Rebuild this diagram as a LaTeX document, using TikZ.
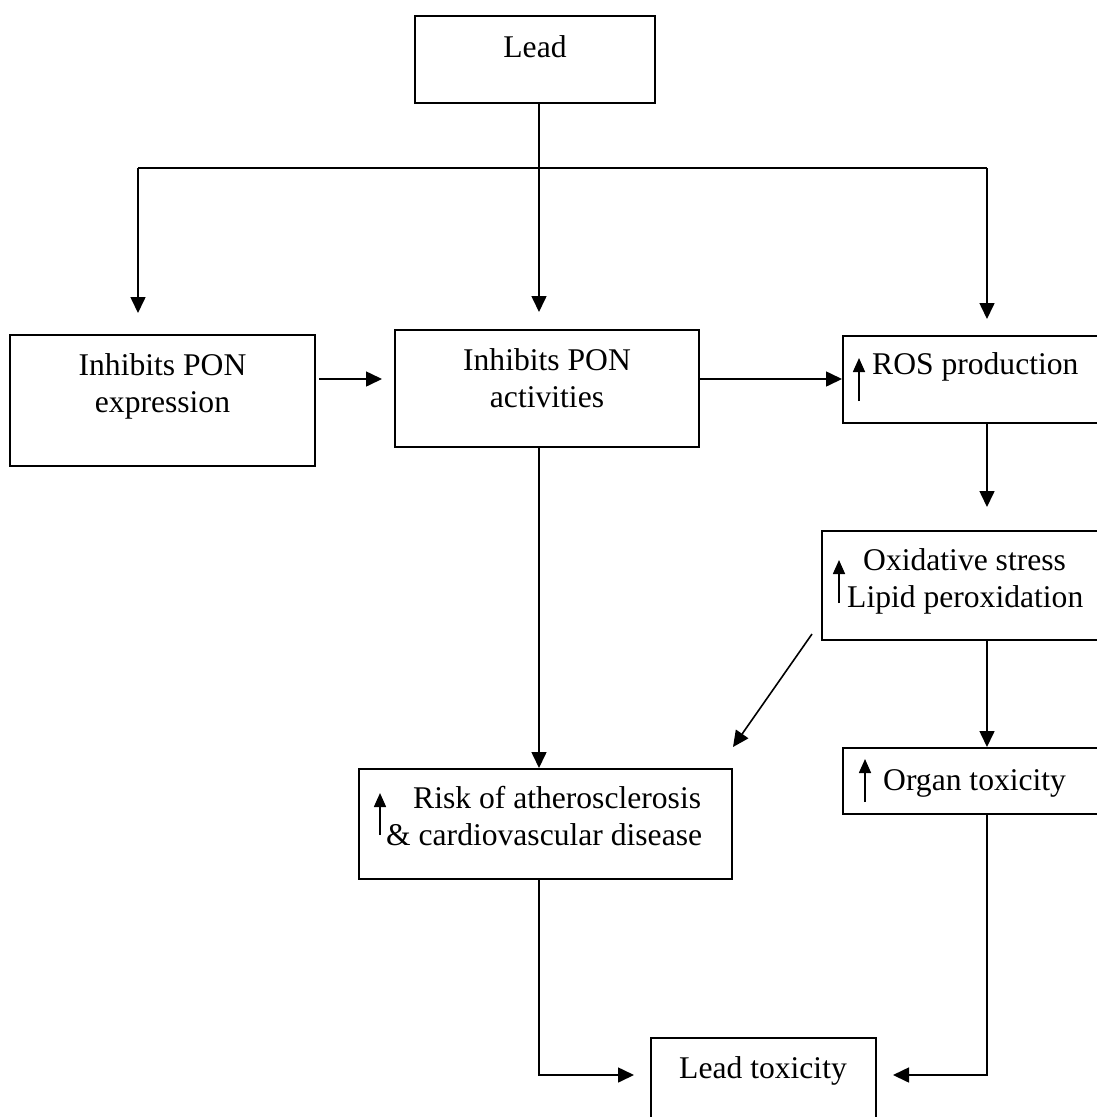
\documentclass[tikz,border=0pt]{standalone}
\usepackage{fontspec}
\setmainfont{Liberation Serif}
\usetikzlibrary{arrows.meta}
\begin{document}
\begin{tikzpicture}[x=1pt,y=1pt,
  box/.style={draw, line width=2pt, rectangle, inner sep=0pt},
  txt/.style={inner sep=0pt, font=\fontsize{31.6}{37}\selectfont},
  conn/.style={line width=1.6pt},
  arr/.style={line width=1.6pt, -{Triangle[length=16pt,width=15pt]}},
  uparr/.style={line width=1.6pt, -{Triangle[length=14pt,width=12pt]}}]
\useasboundingbox (0,0) rectangle (1097,-1117);
\clip (0,0) rectangle (1097,-1117);
\fill[white] (0,0) rectangle (1097,-1117);

% boxes
\node[box, minimum width=240pt, minimum height=87pt] (lead) at (535,-59.5) {};
\node[box, minimum width=305pt, minimum height=131pt] (expr) at (162.5,-400.5) {};
\node[box, minimum width=304pt, minimum height=117pt] (act) at (547,-388.5) {};
\node[box, minimum width=277pt, minimum height=87pt] (ros) at (981.5,-379.5) {};
\node[box, minimum width=298pt, minimum height=109pt] (ox) at (971,-585.5) {};
\node[box, minimum width=373pt, minimum height=110pt] (risk) at (545.5,-824) {};
\node[box, minimum width=277pt, minimum height=66pt] (organ) at (981.5,-781) {};
\node[box, minimum width=225pt, minimum height=112pt] (leadtox) at (763.5,-1094) {};

% texts
\node[txt, anchor=base] (tlead) at (535,-57) {Lead};
\node[txt, anchor=base] (texp1) at (162.5,-375) {Inhibits PON};
\node[txt, anchor=base] (texp2) at (162.5,-412) {expression};
\node[txt, anchor=base] (tact1) at (547,-370) {Inhibits PON};
\node[txt, anchor=base] (tact2) at (547,-407) {activities};
\node[txt, anchor=base west] (tros) at (872,-374) {ROS production};
\node[txt, anchor=base west] (tox1) at (863,-570) {Oxidative stress};
\node[txt, anchor=base west] (tox2) at (847,-607) {Lipid peroxidation};
\node[txt, anchor=base west] (trisk1) at (413,-808) {Risk of atherosclerosis};
\node[txt, anchor=base west] (trisk2) at (386,-845) {\& cardiovascular disease};
\node[txt, anchor=base west] (torgan) at (883,-790) {Organ toxicity};
\node[txt, anchor=base west] (tltox) at (679,-1078) {Lead toxicity};

% small up arrows inside boxes
\draw[uparr] (859,-401) -- (859,-358);
\draw[uparr] (839,-603) -- (839,-560);
\draw[uparr] (380,-835) -- (380,-793);
\draw[uparr] (865,-802) -- (865,-759);

% helper coordinates
\coordinate (mx) at (539,0);
\coordinate (rx) at (987,0);
\coordinate (ry) at (0,-379);
\coordinate (by) at (0,-1075);
\coordinate (bl) at (138,-168);
\coordinate (br) at (987,-168);

% connectors
\draw[conn] (bl) -- (br);
\draw[arr, shorten >=21pt] (bl) -- (bl |- expr.north);
\draw[arr, shorten >=17pt] (lead.south -| mx) -- (act.north -| mx);
\draw[arr, shorten >=16pt] (br) -- (ros.north -| rx);
\draw[arr, shorten <=3pt, shorten >=12pt] (expr.east |- ry) -- (act.west |- ry);
\draw[arr] (act.east |- ry) -- (ros.west |- ry);
\draw[arr, shorten >=23pt] (ros.south -| rx) -- (ox.north -| rx);
\draw[arr] (act.south -| mx) -- (risk.north -| mx);
\draw[arr] ([xshift=-9pt,yshift=7pt]ox.south west) -- ([yshift=21pt]risk.north east);
\draw[arr] (ox.south -| rx) -- (organ.north -| rx);
\draw[arr, shorten >=16pt] (risk.south -| mx) |- (leadtox.west |- by);
\draw[arr, shorten >=16pt] (organ.south -| rx) |- (leadtox.east |- by);
\end{tikzpicture}
\end{document}
